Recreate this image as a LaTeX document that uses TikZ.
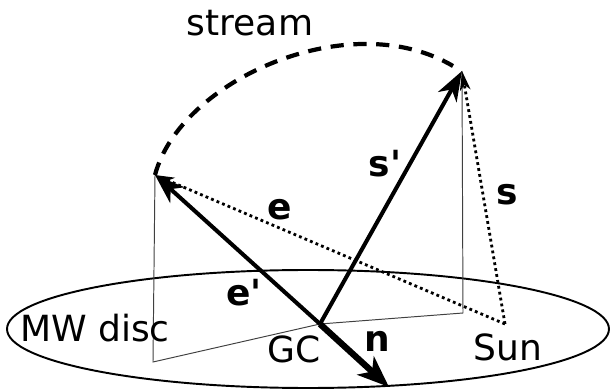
\documentclass[tikz,border=0pt]{standalone}
\usepackage{fontspec}
\setmainfont{DejaVu Sans}[Ligatures=TeXOff]
\usepackage{tikz}
\usetikzlibrary{arrows.meta}

\begin{document}
\begin{tikzpicture}[x=0.02cm, y=-0.02cm,
    vec/.style={line width=2.3pt, -{Stealth[length=17pt, width=12pt, inset=5pt]}},
    dotvec/.style={line width=1.6pt, dash pattern=on 1.6pt off 1.8pt, -{Stealth[length=11pt, width=6pt, inset=3pt]}},
    proj/.style={line width=0.55pt, black!75},
    lbl/.style={font=\fontsize{20.5}{24}\selectfont, inner sep=0pt, anchor=base},
    blbl/.style={lbl, font=\fontsize{20.5}{24}\selectfont\bfseries}]
  \useasboundingbox (0,0) rectangle (610,392);

  % points
  \coordinate (GC) at (320,324);
  \coordinate (sun) at (505,324);
  \coordinate (etip) at (155,175);
  \coordinate (stip) at (462,71);
  \coordinate (efoot) at (153,362);
  \coordinate (sfoot) at (463,313);
  \coordinate (ntip) at (389,387);
  \coordinate (arcend) at (453,66);

  % MW disc
  \draw[line width=1.1pt] (308,329) ellipse [x radius=301, y radius=59];

  % projections onto the disc
  \draw[proj] (etip) -- (efoot) -- (GC) -- (sfoot) -- (stip);

  % stream
  \draw[line width=2.4pt, dash pattern=on 7.5pt off 5.5pt] (etip) .. controls (180,80) and (350,5) .. (arcend);

  % heliocentric vectors
  \draw[dotvec] (sun) -- (etip);
  \draw[dotvec] (sun) -- (stip);

  % galactocentric vectors
  \draw[vec] (GC) -- (etip);
  \draw[vec] (GC) -- (stip);
  \draw[line width=3.6pt, -{Stealth[length=18pt, width=14pt, inset=5pt]}] (GC) -- (ntip);

  \node[lbl] (stream) at (250,35) {stream};
  \node[lbl] (disc) at (95,341) {MW disc};
  \node[lbl] (gclbl) at (294,362) {GC};
  \node[lbl] (sunlbl) at (508,360) {Sun};
  \node[blbl] (elbl) at (280,219) {e};
  \node[blbl] (eplbl) at (244,305) {e'};
  \node[blbl] (splbl) at (385,176) {s'};
  \node[blbl] (slbl) at (507,205) {s};
  \node[blbl] (nlbl) at (377,352) {n};
\end{tikzpicture}
\end{document}
